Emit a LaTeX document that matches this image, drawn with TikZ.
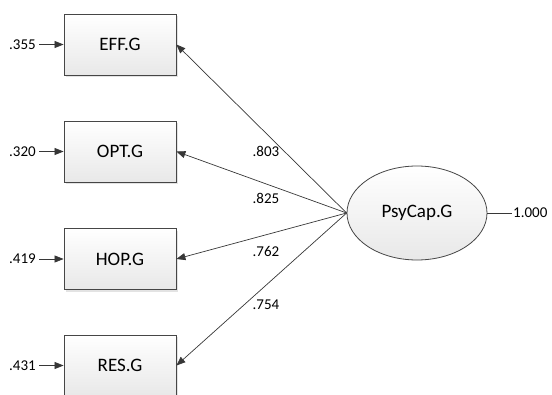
\documentclass[tikz,border=0pt]{standalone}
\usepackage{fontspec}
\setmainfont{Carlito}
\usetikzlibrary{arrows.meta,shapes.geometric,shadows}
\definecolor{edgegray}{RGB}{70,70,70}
\definecolor{linegray}{RGB}{55,55,55}
\tikzset{
  obsbox/.style={draw=edgegray, line width=0.8pt, minimum width=112pt, minimum height=61pt,
    inner sep=0pt, top color=white, bottom color=black!9, font=\fontsize{19}{22}\selectfont,
    drop shadow={shadow xshift=2pt, shadow yshift=-2pt, fill=black!18, opacity=0.6}},
  latent/.style={ellipse, draw=edgegray, line width=0.8pt, minimum width=140pt, minimum height=94pt,
    inner sep=0pt, top color=white, bottom color=black!9, font=\fontsize{19}{22}\selectfont},
  numlab/.style={font=\fontsize{15}{18}\selectfont, inner sep=1pt},
  loadarrow/.style={draw=linegray, line width=0.7pt, -{Triangle[length=9pt,width=7pt]}},
}
\begin{document}
\begin{tikzpicture}[x=1pt,y=-1pt]
  \useasboundingbox (0,0) rectangle (552,394);
  \clip (0,0) rectangle (552,394);

  % observed indicators
  \node[obsbox] (eff) at (120,44.5) {EFF.G};
  \node[obsbox] (opt) at (120,151.5) {OPT.G};
  \node[obsbox] (hop) at (120,259) {HOP.G};
  \node[obsbox] (res) at (120,365.5) {RES.G};

  % latent factor
  \node[latent] (psy) at (417,213) {PsyCap.G};

  % error variances
  \node[numlab, anchor=east] (e1) at (37,44.5) {.355};
  \node[numlab, anchor=east] (e2) at (37,151.5) {.320};
  \node[numlab, anchor=east] (e3) at (37,259) {.419};
  \node[numlab, anchor=east] (e4) at (37,365.5) {.431};
  \foreach \e/\b in {e1/eff,e2/opt,e3/hop,e4/res}
    \draw[loadarrow] ([xshift=2pt]\e.east) -- (\b.west);

  % factor loadings
  \coordinate (src) at (psy.west);
  \foreach \b in {eff,opt,hop,res}
    \draw[loadarrow] (src) -- (\b.east);
  \node[numlab] (l1) at (266,151) {.803};
  \node[numlab] (l2) at (266,198) {.825};
  \node[numlab] (l3) at (266,251) {.762};
  \node[numlab] (l4) at (266,305) {.754};

  % factor variance
  \node[numlab, anchor=west] (var) at (512,213) {1.000};
  \draw[draw=linegray, line width=0.7pt] (psy.east) -- (var.west);
\end{tikzpicture}
\end{document}
